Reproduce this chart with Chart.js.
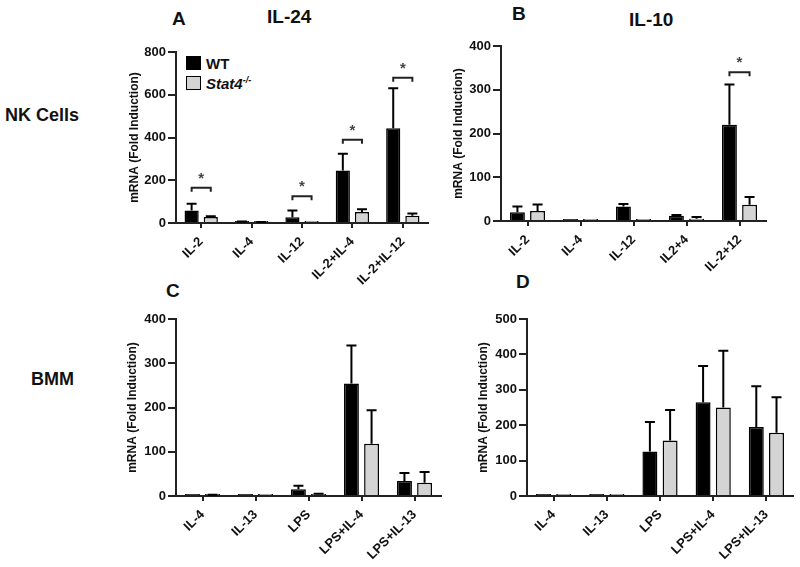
<!DOCTYPE html>
<html>
<head>
<meta charset="utf-8">
<script src="https://cdn.jsdelivr.net/npm/chart.js@4.4.1/dist/chart.umd.min.js"></script>
<style>
  body { margin: 0; background: #fff; }
  #page { position: relative; width: 800px; height: 567px; overflow: hidden; font-family: 'Liberation Sans', Arial, sans-serif; color: #111; }
  canvas { position: absolute; }
  .lbl { position: absolute; font-weight: bold; white-space: nowrap; line-height: 1; }
  .sq { position: absolute; width: 13px; height: 12px; border: 1.5px solid #000; }
</style>
</head>
<body>
<div id="page">
  <div class="lbl" style="left:172px;top:9px;font-size:19px;">A</div>
  <div class="lbl" style="left:267px;top:7px;font-size:19px;">IL-24</div>
  <div class="lbl" style="left:512px;top:4px;font-size:19px;">B</div>
  <div class="lbl" style="left:629px;top:10px;font-size:19px;">IL-10</div>
  <div class="lbl" style="left:166px;top:281px;font-size:19px;">C</div>
  <div class="lbl" style="left:516px;top:272px;font-size:19px;">D</div>
  <div class="lbl" style="left:5px;top:106px;font-size:18px;">NK Cells</div>
  <div class="lbl" style="left:31px;top:370px;font-size:18px;">BMM</div>

  <div class="sq" style="left:186px;top:56px;background:#000;"></div>
  <div class="lbl" style="left:206px;top:56px;font-size:15px;">WT</div>
  <div class="sq" style="left:186px;top:76px;background:#d4d4d4;"></div>
  <div class="lbl" style="left:206px;top:76px;font-size:15px;font-style:italic;">Stat4<sup style="font-size:9px;vertical-align:6px;">-/-</sup></div>

  <canvas id="cA"></canvas>
  <canvas id="cB"></canvas>
  <canvas id="cC"></canvas>
  <canvas id="cD"></canvas>
</div>
<script>
// categories
const catsIL24 = ['IL-2', 'IL-4', 'IL-12', 'IL-2+IL-4', 'IL-2+IL-12'];
const catsIL10 = ['IL-2', 'IL-4', 'IL-12', 'IL2+4', 'IL-2+12'];
const catsBMM = ['IL-4', 'IL-13', 'LPS', 'LPS+IL-4', 'LPS+IL-13'];

// A: IL-24, NK cells
const il24WT = [59, 5, 27, 246, 443];
const il24WTErr = [31, 2, 32, 78, 187];
const il24KO = [28, 4, 2, 51, 34];
const il24KOErr = [3, 1, 0, 13, 11];
const il24Sig = [165, null, 125, 390, 680];

// B: IL-10, NK cells
const il10WT = [20, 1, 33, 12, 220];
const il10WTErr = [13, 0, 6, 2, 92];
const il10KO = [23, 1, 2, 5, 37];
const il10KOErr = [15, 0, 0, 4, 18];
const il10Sig = [null, null, null, null, 340];

// C: BMM (IL-24)
const bmmCWT = [1, 1, 15, 254, 34];
const bmmCWTErr = [0, 0, 8, 86, 18];
const bmmCKO = [2, 1, 4, 118, 30];
const bmmCKOErr = [1, 0, 1, 76, 24];

// D: BMM (IL-10)
const bmmDWT = [1, 1, 126, 265, 195];
const bmmDWTErr = [0, 0, 83, 102, 115];
const bmmDKO = [1, 1, 157, 250, 179];
const bmmDKOErr = [0, 0, 86, 160, 100];

const FONT = "'Liberation Sans', Arial, sans-serif";
const INK = '#111';

// error bars (upper only) + significance brackets
const extrasPlugin = {
    id: 'extras',
    afterDatasetsDraw(chart, args, opts) {
        const ctx = chart.ctx;
        const y = chart.scales.y;
        ctx.save();
        ctx.strokeStyle = '#000';
        ctx.lineWidth = 2;
        chart.data.datasets.forEach((ds, di) => {
            const meta = chart.getDatasetMeta(di);
            meta.data.forEach((bar, i) => {
                const e = ds.errors[i];
                if (!e) return;
                const top = y.getPixelForValue(ds.data[i] + e);
                ctx.beginPath();
                ctx.moveTo(bar.x, bar.y);
                ctx.lineTo(bar.x, top);
                ctx.moveTo(bar.x - 5, top);
                ctx.lineTo(bar.x + 5, top);
                ctx.stroke();
            });
        });
        const sig = opts.sig || [];
        const m0 = chart.getDatasetMeta(0), m1 = chart.getDatasetMeta(1);
        sig.forEach((s, i) => {
            if (s == null) return;
            const x1 = m0.data[i].x, x2 = m1.data[i].x;
            const py = y.getPixelForValue(s);
            ctx.strokeStyle = '#222';
            ctx.lineWidth = 2;
            ctx.beginPath();
            ctx.moveTo(x1, py + 4);
            ctx.lineTo(x1, py);
            ctx.lineTo(x2, py);
            ctx.lineTo(x2, py + 4);
            ctx.stroke();
            ctx.fillStyle = '#444';
            ctx.font = 'bold 15px ' + FONT;
            ctx.textAlign = 'center';
            ctx.textBaseline = 'middle';
            ctx.fillText('*', (x1 + x2) / 2, py - 9);
        });
        ctx.restore();
    }
};

function makePanel(id, area, titleX, cats, wt, wtErr, ko, koErr, sig, yMax) {
    const cv = document.getElementById(id);
    const left = titleX - 11;
    const top = area.t - 14;
    const right = Math.min(800, area.r + 6);
    const bottom = Math.min(567, area.b + 75);
    cv.style.left = left + 'px';
    cv.style.top = top + 'px';
    cv.style.width = (right - left) + 'px';
    cv.style.height = (bottom - top) + 'px';
    cv.width = right - left;
    cv.height = bottom - top;

    const barStyle = {
        borderColor: '#000',
        borderWidth: 1.5,
        minBarLength: 2,
        categoryPercentage: 0.76,
        barPercentage: 0.74
    };

    new Chart(cv, {
        type: 'bar',
        data: {
            labels: cats,
            datasets: [
                Object.assign({ label: 'WT', data: wt, errors: wtErr, backgroundColor: '#000' }, barStyle),
                Object.assign({ label: 'Stat4-/-', data: ko, errors: koErr, backgroundColor: '#d4d4d4' }, barStyle)
            ]
        },
        options: {
            responsive: false,
            animation: false,
            layout: { padding: { top: area.t - top, right: right - area.r, left: 0, bottom: 0 } },
            plugins: {
                legend: { display: false },
                tooltip: { enabled: false },
                extras: { sig: sig }
            },
            scales: {
                x: {
                    offset: true,
                    grid: { offset: false, drawOnChartArea: false, drawTicks: true, tickLength: 5, color: '#222', lineWidth: 2 },
                    border: { display: true, color: '#222', width: 2 },
                    ticks: {
                        color: INK, padding: 6, minRotation: 45, maxRotation: 45, autoSkip: false,
                        font: { family: FONT, size: 13, weight: 'bold' }
                    },
                    // fixed box so the plot area lands where the reference has it
                    afterFit(s) {
                        s.height = bottom - area.b;
                        s.paddingLeft = 0;
                        s.paddingRight = 0;
                    }
                },
                y: {
                    min: 0,
                    max: yMax,
                    grid: { drawOnChartArea: false, drawTicks: true, tickLength: 8, color: '#222', lineWidth: 2 },
                    border: { display: true, color: '#222', width: 2 },
                    ticks: {
                        stepSize: yMax === 800 ? 200 : 100, color: INK, padding: 2,
                        font: { family: FONT, size: 13, weight: 'bold' }
                    },
                    title: {
                        display: true, text: 'mRNA (Fold Induction)', color: INK,
                        font: { family: FONT, size: 12, weight: 'bold' }
                    },
                    afterFit(s) { s.width = area.l - left; }
                }
            }
        },
        plugins: [extrasPlugin]
    });
}

makePanel('cA', { l: 176, r: 428, t: 52, b: 223 }, 134, catsIL24, il24WT, il24WTErr, il24KO, il24KOErr, il24Sig, 800);
makePanel('cB', { l: 501, r: 766, t: 46, b: 221 }, 458, catsIL10, il10WT, il10WTErr, il10KO, il10KOErr, il10Sig, 400);
makePanel('cC', { l: 176, r: 441, t: 319, b: 496 }, 132, catsBMM, bmmCWT, bmmCWTErr, bmmCKO, bmmCKOErr, [], 400);
makePanel('cD', { l: 527, r: 793, t: 319, b: 496 }, 483, catsBMM, bmmDWT, bmmDWTErr, bmmDKO, bmmDKOErr, [], 500);
</script>
</body>
</html>
